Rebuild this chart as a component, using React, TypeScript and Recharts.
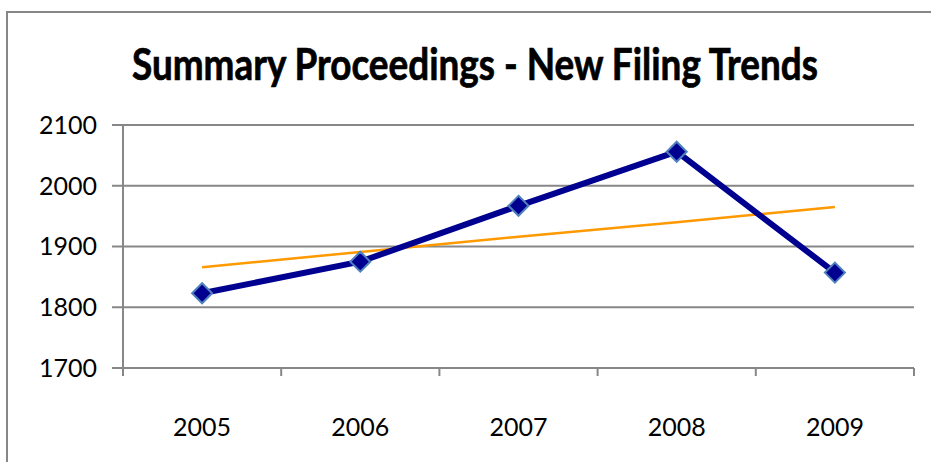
import { LineChart, Line, XAxis, YAxis, CartesianGrid } from "recharts";

const years = ["2005", "2006", "2007", "2008", "2009"];
const filings = [1823, 1875, 1967, 2056, 1857];
// linear trendline values
const trend = [1866, 1891, 1916, 1940, 1965];
const yTicks = [1700, 1800, 1900, 2000, 2100];
const edgeTicks = [0, 1, 2, 3, 4, 5];

const rows = years.map((year, i) => ({
  year,
  slot: i + 0.5,
  filings: filings[i],
  trend: trend[i],
}));

const gray = "#878787";
const font = "Lato, 'Open Sans', sans-serif";

const Diamond = (props: any) => {
  const { cx, cy } = props;
  if (cx == null || cy == null) return null;
  const r = 10;
  return (
    <polygon
      points={`${cx},${cy - r} ${cx + r},${cy} ${cx},${cy + r} ${cx - r},${cy}`}
      fill="#000090"
      stroke="#4f81bd"
      strokeWidth={2}
    />
  );
};

export default function App() {
  return (
    <div
      style={{
        position: "absolute",
        left: 0,
        top: 0,
        width: 931,
        height: 462,
        overflow: "hidden",
        background: "#fff",
      }}
    >
      <div
        style={{
          position: "absolute",
          left: 6,
          top: 11,
          width: 1000,
          height: 600,
          borderLeft: `2px solid ${gray}`,
          borderTop: `2px solid ${gray}`,
        }}
      />
      <LineChart
        width={931}
        height={462}
        data={rows}
        margin={{ top: 125, right: 17, bottom: 0, left: 0 }}
        style={{ position: "absolute", left: 0, top: 0 }}
      >
        <text
          x={475}
          y={80}
          textAnchor="middle"
          textLength={686}
          lengthAdjust="spacingAndGlyphs"
          fontFamily={font}
          fontWeight={700}
          fontSize={43}
          fill="#000"
          stroke="#000"
          strokeWidth={0.7}
        >
          Summary Proceedings - New Filing Trends
        </text>
        <CartesianGrid
          xAxisId="a"
          vertical={false}
          stroke={gray}
          strokeWidth={2}
          strokeDasharray=""
        />
        <XAxis
          xAxisId="a"
          dataKey="slot"
          type="number"
          domain={[0, 5]}
          ticks={edgeTicks}
          allowDataOverflow
          tickFormatter={() => ""}
          tickSize={8}
          height={10}
          axisLine={{ stroke: gray, strokeWidth: 2 }}
          tickLine={{ stroke: gray, strokeWidth: 2 }}
        />
        <XAxis
          xAxisId="b"
          dataKey="year"
          type="category"
          scale="band"
          axisLine={false}
          tickLine={false}
          tickSize={0}
          tickMargin={40}
          height={84}
          tick={{ fill: "#000", fontSize: 25, fontFamily: font }}
        />
        <YAxis
          domain={[1700, 2100]}
          ticks={yTicks}
          width={123}
          tickSize={11}
          tickMargin={15}
          axisLine={{ stroke: gray, strokeWidth: 2 }}
          tickLine={{ stroke: gray, strokeWidth: 2 }}
          tick={{ fill: "#000", fontSize: 25, fontFamily: font }}
        />
        <Line
          xAxisId="a"
          dataKey="trend"
          stroke="#ff9900"
          strokeWidth={2.5}
          dot={false}
          activeDot={false}
          isAnimationActive={false}
        />
        <Line
          xAxisId="a"
          dataKey="filings"
          stroke="#000090"
          strokeWidth={6}
          dot={<Diamond />}
          activeDot={false}
          isAnimationActive={false}
        />
      </LineChart>
    </div>
  );
}
